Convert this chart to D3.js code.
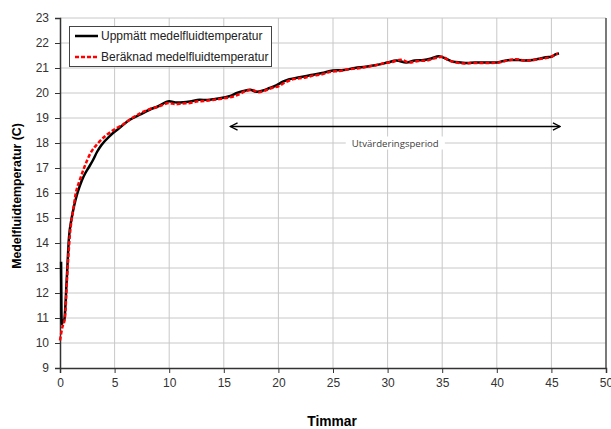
<!DOCTYPE html>
<head>
<meta charset="utf-8">
<style>
body { margin: 0; background: #fff; }
svg { display: block; }
.tick text { font: 12px "Liberation Sans", Arial, sans-serif; fill: #333; }
.axisTitle { font: bold 12.3px "Liberation Sans", Arial, sans-serif; fill: #000; }
.xTitle { font-size: 13.8px; }
.legendText { font: 12px "Liberation Sans", Arial, sans-serif; fill: #222; }
.note { font: 9.6px "Open Sans", sans-serif; fill: #404040; }
</style>
</head>
<body>
<svg width="611" height="429"></svg>
<script src="https://d3js.org/d3.v7.min.js"></script>
<script>
// uppmätt (black)
var measHours = [0.1, 0.13, 0.16, 0.25, 0.4, 0.6, 0.82, 1.07, 1.3, 1.6, 2.0, 2.3, 2.6, 3.0, 3.4, 3.8, 4.6, 5.3, 6.4, 7.3, 8.2, 9.0,
  10.0, 10.7, 11.3, 11.9, 12.8, 13.5, 14.2, 15.0, 15.6, 16.2, 16.8, 17.4, 18.0, 18.6, 19.2, 19.8, 20.4, 21.0, 21.6, 22.2,
  23, 24, 25, 26, 27, 28, 29, 30, 30.8, 31.7, 32.5, 33.3, 34, 34.7, 35.3, 36, 36.7, 37.3, 38, 39,
  40, 40.6, 41.2, 42, 42.6, 43.3, 44, 44.5, 45, 45.4, 45.7];
var measTemp = [13.25, 11.4, 10.75, 10.85, 10.95, 12.4, 14.2, 15.0, 15.5, 16.0, 16.5, 16.78, 17.0, 17.3, 17.65, 17.92, 18.3, 18.55, 18.93, 19.13, 19.33, 19.47,
  19.67, 19.62, 19.63, 19.66, 19.73, 19.72, 19.76, 19.82, 19.88, 20.0, 20.08, 20.13, 20.05, 20.1, 20.2, 20.3, 20.45, 20.55, 20.6, 20.65,
  20.72, 20.8, 20.9, 20.92, 21.0, 21.05, 21.12, 21.22, 21.3, 21.22, 21.3, 21.32, 21.38, 21.47, 21.38, 21.25, 21.22, 21.2, 21.22, 21.22,
  21.22, 21.28, 21.32, 21.32, 21.3, 21.32, 21.38, 21.43, 21.45, 21.55, 21.58];

// beräknad (red dashed)
var calcHours = [0, 0.2, 0.45, 0.65, 0.9, 1.2, 1.45, 1.8, 2.2, 2.8, 3.5, 4.2, 5.0, 5.8, 6.6, 7.4, 8.2, 9.0, 10.0, 10.6,
  11.2, 11.9, 12.5, 13.2, 14.0, 14.6, 15.2, 15.8, 16.4, 17.0, 17.6, 18.2, 18.8, 19.4, 20.0, 20.6, 21.2, 21.8, 22.5, 23.2,
  24, 24.8, 25.6, 26.4, 27.2, 28, 28.8, 29.6, 30.4, 31.2, 32, 32.8, 33.6, 34.4, 35, 35.6, 36.3, 37, 37.8, 38.6,
  39.4, 40.2, 41, 41.8, 42.6, 43.4, 44.2, 44.8, 45.3, 45.6];
var calcTemp = [10.1, 10.6, 11.0, 12.6, 14.3, 15.3, 16.0, 16.5, 17.0, 17.6, 18.0, 18.3, 18.55, 18.75, 19.0, 19.2, 19.35, 19.45, 19.6, 19.55,
  19.58, 19.6, 19.66, 19.68, 19.72, 19.76, 19.8, 19.85, 19.95, 20.08, 20.12, 20.03, 20.1, 20.2, 20.27, 20.42, 20.53, 20.58, 20.62, 20.7,
  20.75, 20.85, 20.88, 20.95, 20.98, 21.04, 21.1, 21.18, 21.24, 21.33, 21.22, 21.28, 21.3, 21.4, 21.45, 21.3, 21.22, 21.18, 21.2, 21.2,
  21.2, 21.22, 21.3, 21.35, 21.3, 21.32, 21.38, 21.42, 21.52, 21.58];

var xTicks = [0, 5, 10, 15, 20, 25, 30, 35, 40, 45, 50];
var yTicks = [9, 10, 11, 12, 13, 14, 15, 16, 17, 18, 19, 20, 21, 22, 23];
var seriesNames = ["Uppmätt medelfluidtemperatur", "Beräknad medelfluidtemperatur"];
var period = [15.6, 45.8], periodLevel = 18.66, periodLabel = "Utvärderingsperiod";

var svg = d3.select("svg");
var x = d3.scaleLinear().domain([0, 50]).range([60, 606]);
var y = d3.scaleLinear().domain([9, 23]).range([368, 18]);

// grid
svg.append("g").selectAll("line").data(xTicks.slice(1)).enter().append("line")
  .attr("x1", function(d) { return x(d); }).attr("x2", function(d) { return x(d); })
  .attr("y1", y(9)).attr("y2", y(23))
  .attr("stroke", "#c8c8c8").attr("stroke-width", 1);
svg.append("g").selectAll("line").data(yTicks.slice(1)).enter().append("line")
  .attr("x1", x(0)).attr("x2", x(50))
  .attr("y1", function(d) { return y(d); }).attr("y2", function(d) { return y(d); })
  .attr("stroke", "#c8c8c8").attr("stroke-width", 1);

// axes
var gx = svg.append("g").attr("transform", "translate(0," + y(9) + ")")
  .call(d3.axisBottom(x).tickValues(xTicks).tickSize(5).tickPadding(5));
var gy = svg.append("g").attr("transform", "translate(" + x(0) + ",0)")
  .call(d3.axisLeft(y).tickValues(yTicks).tickSize(5).tickPadding(6));
gx.select(".domain").attr("stroke", "#333").attr("stroke-width", 1.5);
gy.select(".domain").attr("stroke", "#333").attr("stroke-width", 1.5);
svg.selectAll(".tick line").attr("stroke", "#333");
svg.append("line").attr("x1", x(50)).attr("x2", x(50)).attr("y1", y(23)).attr("y2", y(9))
  .attr("stroke", "#333").attr("stroke-width", 1.2);

// lines
var line = d3.line().curve(d3.curveMonotoneX)
  .x(function(d) { return x(d[0]); }).y(function(d) { return y(d[1]); });
svg.append("path").datum(d3.zip(measHours, measTemp))
  .attr("d", line).attr("fill", "none").attr("stroke", "#000").attr("stroke-width", 2.5)
  .attr("stroke-linejoin", "round");
svg.append("path").datum(d3.zip(calcHours, calcTemp))
  .attr("d", line).attr("fill", "none").attr("stroke", "#ff0000").attr("stroke-width", 2.5)
  .attr("stroke-dasharray", "4,2");

// annotation
var defs = svg.append("defs");
defs.append("marker").attr("id", "ah").attr("viewBox", "0 0 10 10").attr("refX", 9).attr("refY", 5)
  .attr("markerWidth", 6).attr("markerHeight", 6).attr("orient", "auto-start-reverse")
  .append("path").attr("d", "M1,1 L9,5 L1,9").attr("fill", "none").attr("stroke", "#000").attr("stroke-width", 1.5);
svg.append("line").attr("x1", x(period[0])).attr("x2", x(period[1]))
  .attr("y1", y(periodLevel)).attr("y2", y(periodLevel))
  .attr("stroke", "#000").attr("stroke-width", 1.5)
  .attr("marker-start", "url(#ah)").attr("marker-end", "url(#ah)");
var noteX = (x(period[0]) + x(period[1])) / 2;
var note = svg.append("text").attr("class", "note").attr("x", noteX).attr("y", y(18) + 3.5)
  .attr("text-anchor", "middle").text(periodLabel);
var bb = note.node().getBBox();
svg.insert("rect", ".note").attr("x", bb.x - 6).attr("y", bb.y).attr("width", bb.width + 12).attr("height", bb.height)
  .attr("fill", "#fff");

// legend
var lg = svg.append("g");
lg.append("rect").attr("x", 69.5).attr("y", 26.5).attr("width", 202).attr("height", 40)
  .attr("fill", "#fff").attr("stroke", "#444").attr("stroke-width", 1);
seriesNames.forEach(function(n, i) {
  var yy = 36 + i * 21;
  lg.append("line").attr("x1", 75).attr("x2", 98).attr("y1", yy).attr("y2", yy)
    .attr("stroke", i ? "#ff0000" : "#000").attr("stroke-width", 2.5)
    .attr("stroke-dasharray", i ? "4,2" : null);
  lg.append("text").attr("class", "legendText").attr("x", 101).attr("y", yy + 4).text(n);
});

// titles
svg.append("text").attr("class", "axisTitle xTitle").attr("x", 332).attr("y", 426)
  .attr("text-anchor", "middle").text("Timmar");
svg.append("text").attr("class", "axisTitle")
  .attr("transform", "translate(21,196) rotate(-90)")
  .attr("text-anchor", "middle").text("Medelfluidtemperatur (C)");
</script>
</body>
